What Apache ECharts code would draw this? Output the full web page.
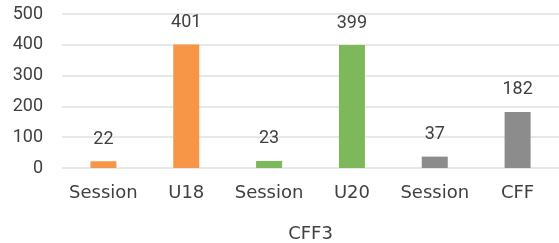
<!DOCTYPE html>
<html><head><meta charset="utf-8">
<script src="https://cdn.jsdelivr.net/npm/echarts@6/dist/echarts.min.js"></script>
<style>html,body{margin:0;padding:0;background:#fff}#c{width:559px;height:243px}</style>
</head><body><div id="c"></div>
<script>
const categories = ["Session", "U18", "Session", "U20", "Session", "CFF"];
const values = [22, 401, 23, 399, 37, 182];
const barColors = ["#F79646", "#F79646", "#7DB95B", "#7DB95B", "#8C8C8C", "#8C8C8C"];
const yTicks = [0, 100, 200, 300, 400, 500];
const axisTitle = "CFF3";

const chart = echarts.init(document.getElementById('c'));
const numFont = 'Roboto';
const txtFont = 'DejaVu Sans';
chart.setOption({
  animation: false,
  grid: {left: 62, right: 0, top: 14, bottom: 75, containLabel: false, outerBoundsMode: 'none'},
  xAxis: {
    type: 'category', data: categories,
    name: axisTitle, nameLocation: 'middle', nameGap: 57,
    nameTextStyle: {fontSize: 18, color: '#404040', fontFamily: txtFont},
    axisLine: {show: false}, axisTick: {show: false},
    axisLabel: {fontSize: 18, color: '#404040', fontFamily: txtFont, margin: 16, interval: 0}
  },
  yAxis: {
    type: 'value', min: yTicks[0], max: yTicks[yTicks.length-1], interval: 100,
    axisLine: {show: false}, axisTick: {show: false},
    splitLine: {lineStyle: {color: '#E8E8E8', width: 2}},
    axisLabel: {fontSize: 18, color: '#404040', fontFamily: numFont, margin: 19}
  },
  series: [{
    type: 'bar', barWidth: 26,
    data: values.map((v, i) => ({value: v, itemStyle: {color: barColors[i]}})),
    label: {show: true, position: 'top', distance: 13, fontSize: 18, color: '#404040', fontFamily: numFont}
  }]
});
</script></body></html>
